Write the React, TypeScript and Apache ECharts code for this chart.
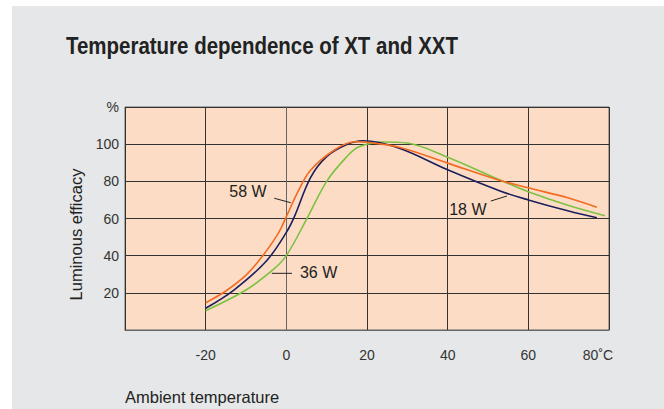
import React, { useEffect, useRef } from "react";
import * as echarts from "echarts";

const FONT = "'Liberation Sans', Arial, sans-serif";

const xTicks = [-40, -20, 0, 20, 40, 60, 80];
const yTicks = [0, 20, 40, 60, 80, 100, 120];

const temps58 = [-20, -15, -10, -6, -2, 0, 3, 6, 12, 17, 20, 28, 40, 53, 60, 70, 77];
const eff58 = [14.7, 21, 29.5, 39.5, 52, 61, 75, 86, 97, 101.3, 101, 98.3, 89.8, 80.5, 76.5, 71, 66];

const temps18 = [-20, -13, -5, 0, 2, 6, 10, 15, 19, 28, 40, 53, 60, 70, 77];
const eff18 = [11.7, 21.5, 37, 52.5, 61, 82, 93.3, 99.8, 101.8, 97.8, 86.2, 74.8, 70, 64, 60.4];

const temps36 = [-20, -10, -3, 0, 5, 10, 15, 18, 24, 30, 40, 53, 60, 70, 79];
const eff36 = [10.4, 21.5, 33, 40, 59.5, 80, 93.3, 98.6, 101.2, 100.6, 93, 80.7, 74.4, 67, 61.5];

const seriesNames = ["58 W", "18 W", "36 W"];
const seriesColors = ["#f26b21", "#1b1f5c", "#7cc242"];

const titleText = "Temperature dependence of XT and XXT";
const xAxisName = "Ambient temperature";
const yAxisName = "Luminous efficacy";

// annotation: label, text anchor (data), leader line start & end (data)
const annotations = [
  { label: "58 W", text: [-9.5, 74.4], from: [-3.0, 70.9], to: [1.1, 68.5] },
  { label: "36 W", text: [8.0, 30.8], from: [-3.6, 30.5], to: [1.4, 30.5] },
  { label: "18 W", text: [45.0, 65.1], from: [50.7, 69.4], to: [54.7, 72.1] },
];

const zip = (xs: number[], ys: number[]) => xs.map((x, i) => [x, ys[i]]);

export default function App() {
  const ref = useRef<HTMLDivElement>(null);
  useEffect(() => {
    document.body.style.margin = "0";
    if (!ref.current) return;
    const chart = echarts.init(ref.current, undefined, { renderer: "svg" });
    const datasets = [zip(temps58, eff58), zip(temps18, eff18), zip(temps36, eff36)];
    chart.setOption({
      animation: false,
      backgroundColor: "#ffffff",
      title: [
        {
          text: xAxisName,
          left: 120,
          top: 383,
          textStyle: { fontFamily: FONT, fontSize: 16.5, fontWeight: "normal", color: "#222" },
        },
      ],
      grid: {
        left: 125,
        right: 55,
        top: 107,
        bottom: 79,
        show: true,
        backgroundColor: "#fcdcc4",
        borderColor: "#666",
        borderWidth: 1,
      },
      xAxis: {
        type: "value",
        min: xTicks[0],
        max: xTicks[xTicks.length - 1],
        interval: 20,
        axisLine: { show: true, lineStyle: { color: "#666", width: 1 } },
        axisTick: { show: false },
        splitLine: { show: true, lineStyle: { color: "#333", width: 1 } },
        axisLabel: {
          margin: 18,
          fontFamily: FONT,
          fontSize: 14,
          color: "#333",
          formatter: (v: number) =>
            v === xTicks[0] ? "" : v === xTicks[xTicks.length - 1] ? "{u|" + v + "˚C}" : String(v),
          rich: { u: { fontFamily: FONT, fontSize: 14, color: "#333", padding: [0, 22, 0, 0] } },
        },
      },
      yAxis: {
        type: "value",
        min: yTicks[0],
        max: yTicks[yTicks.length - 1],
        interval: 20,
        name: yAxisName,
        nameLocation: "middle",
        nameGap: 41,
        nameTextStyle: { fontFamily: FONT, fontSize: 16.5, color: "#222", padding: [0, 32, 0, 0] },
        axisLine: { show: true, lineStyle: { color: "#666", width: 1 } },
        axisTick: { show: false },
        splitLine: { show: true, lineStyle: { color: "#333", width: 1 } },
        axisLabel: {
          margin: 6,
          fontFamily: FONT,
          fontSize: 14,
          color: "#333",
          formatter: (v: number) => (v === yTicks[0] ? "" : v === yTicks[yTicks.length - 1] ? "%" : String(v)),
        },
      },
      series: datasets.map((d, i) => ({
        type: "line",
        name: seriesNames[i],
        data: d,
        smooth: 0.35,
        showSymbol: false,
        symbol: "none",
        lineStyle: { color: seriesColors[i], width: 1.6 },
        z: 3 - i,
      })),
    });

    const px = (p: number[]) => chart.convertToPixel({ gridIndex: 0 }, p) as number[];
    const graphics: any[] = [
      {
        type: "rect",
        shape: { x: 12, y: 6, width: 664, height: 409 },
        style: { fill: "#e6e7e8" },
        z: -10,
        silent: true,
      },
      {
        type: "text",
        x: 66,
        y: 46,
        scaleX: 0.89,
        style: {
          text: titleText,
          fontFamily: FONT,
          fontSize: 23,
          fontWeight: "bold",
          fill: "#222",
          align: "left",
          verticalAlign: "middle",
        },
        z: 10,
      },
    ];
    annotations.forEach((a) => {
      const t = px(a.text);
      const f = px(a.from);
      const e = px(a.to);
      graphics.push({
        type: "text",
        x: t[0],
        y: t[1],
        style: {
          text: a.label,
          fontFamily: FONT,
          fontSize: 16,
          fill: "#222",
          align: "center",
          verticalAlign: "middle",
        },
        z: 10,
      });
      graphics.push({
        type: "line",
        shape: { x1: f[0], y1: f[1], x2: e[0], y2: e[1] },
        style: { stroke: "#222", lineWidth: 1 },
        z: 10,
      });
    });
    chart.setOption({ graphic: graphics });
    return () => chart.dispose();
  }, []);
  return <div ref={ref} style={{ width: 664, height: 409 }} />;
}
